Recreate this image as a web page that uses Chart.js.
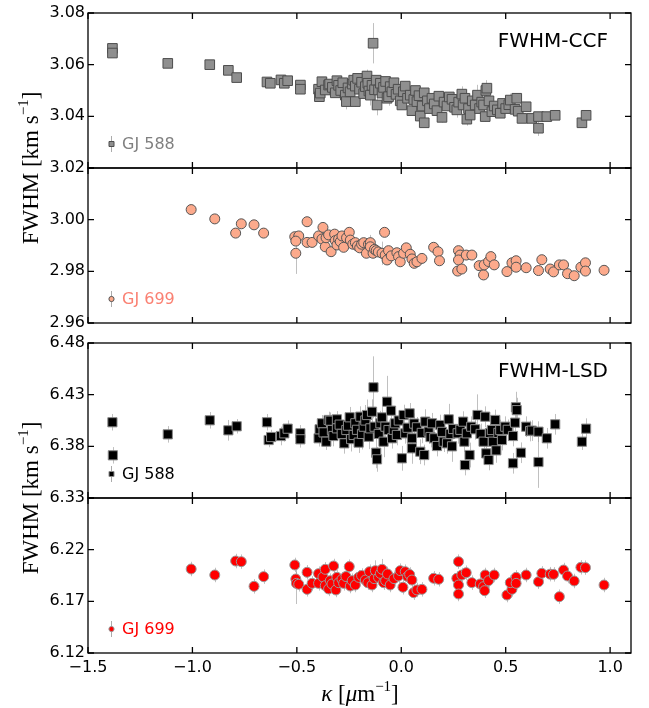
<!DOCTYPE html>
<html>
<head>
<meta charset="utf-8">
<script src="https://cdn.jsdelivr.net/npm/chart.js@4.4.1/dist/chart.umd.min.js"></script>
<style>
  html, body { margin: 0; padding: 0; background: #fff; }
  #fig { position: relative; width: 649px; height: 708px; overflow: hidden; }
  #fig canvas { position: absolute; left: 0; }
  .axlabel {
    position: absolute;
    font-family: "Liberation Serif", serif;
    font-size: 23px;
    white-space: nowrap;
    color: #000;
    line-height: 1;
  }
  .axlabel sup { font-size: 15px; position: relative; top: -2px; }
  .ylab { transform: translate(-50%, -50%) rotate(-90deg); }
  .xlab { transform: translate(-50%, -50%); }
</style>
</head>
<body>
<div id="fig">
  <canvas id="ccf588" width="649" height="181" style="top:0px"></canvas>
  <canvas id="ccf699" width="649" height="181" style="top:155px"></canvas>
  <canvas id="lsd588" width="649" height="181" style="top:330px"></canvas>
  <canvas id="lsd699" width="649" height="223" style="top:485px"></canvas>
  <div class="axlabel ylab" style="left:30px; top:168px">FWHM [km s<sup>−1</sup>]</div>
  <div class="axlabel ylab" style="left:30px; top:498px">FWHM [km s<sup>−1</sup>]</div>
  <div class="axlabel xlab" style="left:360px; top:693px"><i>κ</i> [<i>μ</i>m<sup>−1</sup>]</div>
</div>
<script>
// κ ticks shared by all panels
const kappaTicks = [-1.5, -1.0, -0.5, 0.0, 0.5, 1.0];
const ccfTicks588 = [3.02, 3.04, 3.06, 3.08];
const ccfTicks699 = [2.96, 2.98, 3.00, 3.02];
const lsdTicks588 = [6.33, 6.38, 6.43, 6.48];
const lsdTicks699 = [6.12, 6.17, 6.22, 6.27];

// [kappa, FWHM (km/s), error]
const ccf588 = [
  [-1.383, 3.0663, 0.0010], [-1.383, 3.0645, 0.0010], [-1.118, 3.0605, 0.0008],
  [-0.917, 3.0600, 0.0008], [-0.828, 3.0578, 0.0010], [-0.788, 3.0550, 0.0010],
  [-0.643, 3.0533, 0.0012], [-0.627, 3.0528, 0.0010], [-0.576, 3.0541, 0.0012],
  [-0.560, 3.0528, 0.0010], [-0.544, 3.0538, 0.0010], [-0.483, 3.0521, 0.0010],
  [-0.483, 3.0505, 0.0012], [-0.396, 3.0505, 0.0015], [-0.392, 3.0476, 0.0015],
  [-0.388, 3.0490, 0.0012], [-0.380, 3.0534, 0.0012], [-0.364, 3.0502, 0.0012],
  [-0.348, 3.0521, 0.0012], [-0.343, 3.0525, 0.0012], [-0.330, 3.0512, 0.0015],
  [-0.316, 3.0491, 0.0015], [-0.308, 3.0538, 0.0012], [-0.300, 3.0520, 0.0012],
  [-0.290, 3.0500, 0.0015], [-0.280, 3.0530, 0.0012], [-0.268, 3.0482, 0.0015],
  [-0.263, 3.0457, 0.0030], [-0.255, 3.0510, 0.0015], [-0.245, 3.0495, 0.0015],
  [-0.235, 3.0525, 0.0012], [-0.228, 3.0540, 0.0012], [-0.220, 3.0517, 0.0015],
  [-0.220, 3.0457, 0.0020], [-0.209, 3.0547, 0.0015], [-0.200, 3.0505, 0.0015],
  [-0.190, 3.0532, 0.0015], [-0.180, 3.0488, 0.0015], [-0.172, 3.0515, 0.0015],
  [-0.164, 3.0556, 0.0025], [-0.160, 3.0528, 0.0015], [-0.155, 3.0498, 0.0015],
  [-0.148, 3.0482, 0.0040], [-0.140, 3.0520, 0.0015], [-0.135, 3.0683, 0.0078],
  [-0.128, 3.0503, 0.0015], [-0.120, 3.0540, 0.0015], [-0.116, 3.0444, 0.0040],
  [-0.109, 3.0502, 0.0020], [-0.100, 3.0528, 0.0015], [-0.092, 3.0490, 0.0015],
  [-0.085, 3.0512, 0.0015], [-0.075, 3.0535, 0.0015], [-0.068, 3.0470, 0.0015],
  [-0.061, 3.0476, 0.0035], [-0.053, 3.0515, 0.0015], [-0.045, 3.0495, 0.0015],
  [-0.035, 3.0530, 0.0015], [-0.025, 3.0485, 0.0015], [-0.015, 3.0505, 0.0015],
  [-0.005, 3.0460, 0.0015], [0.003, 3.0444, 0.0015], [0.010, 3.0495, 0.0015],
  [0.019, 3.0517, 0.0015], [0.030, 3.0470, 0.0015], [0.043, 3.0482, 0.0015],
  [0.051, 3.0422, 0.0020], [0.060, 3.0465, 0.0015], [0.068, 3.0500, 0.0015],
  [0.075, 3.0457, 0.0015], [0.085, 3.0480, 0.0015], [0.091, 3.0401, 0.0015],
  [0.100, 3.0440, 0.0015], [0.110, 3.0375, 0.0015], [0.110, 3.0491, 0.0015],
  [0.125, 3.0460, 0.0015], [0.135, 3.0430, 0.0015], [0.147, 3.0470, 0.0015],
  [0.158, 3.0448, 0.0015], [0.171, 3.0422, 0.0025], [0.180, 3.0478, 0.0015],
  [0.195, 3.0396, 0.0020], [0.205, 3.0455, 0.0015], [0.219, 3.0440, 0.0015],
  [0.230, 3.0475, 0.0015], [0.243, 3.0466, 0.0015], [0.255, 3.0435, 0.0015],
  [0.266, 3.0425, 0.0030], [0.275, 3.0455, 0.0015], [0.290, 3.0486, 0.0030],
  [0.296, 3.0444, 0.0015], [0.305, 3.0470, 0.0015], [0.314, 3.0389, 0.0025],
  [0.322, 3.0430, 0.0015], [0.330, 3.0405, 0.0015], [0.340, 3.0460, 0.0015],
  [0.354, 3.0444, 0.0015], [0.365, 3.0482, 0.0040], [0.375, 3.0430, 0.0015],
  [0.385, 3.0455, 0.0015], [0.394, 3.0444, 0.0015], [0.402, 3.0399, 0.0020],
  [0.405, 3.0500, 0.0040], [0.410, 3.0509, 0.0015], [0.420, 3.0460, 0.0015],
  [0.434, 3.0418, 0.0015], [0.445, 3.0440, 0.0015], [0.460, 3.0425, 0.0015],
  [0.474, 3.0412, 0.0015], [0.485, 3.0450, 0.0015], [0.500, 3.0430, 0.0015],
  [0.515, 3.0445, 0.0015], [0.522, 3.0463, 0.0025], [0.545, 3.0427, 0.0015],
  [0.553, 3.0470, 0.0015], [0.560, 3.0420, 0.0015], [0.578, 3.0392, 0.0015],
  [0.598, 3.0437, 0.0015], [0.625, 3.0392, 0.0015], [0.657, 3.0399, 0.0015],
  [0.657, 3.0354, 0.0030], [0.697, 3.0399, 0.0015], [0.737, 3.0404, 0.0015],
  [0.865, 3.0375, 0.0015], [0.885, 3.0404, 0.0015]
];

const ccf699 = [
  [-1.006, 3.0039, 0.0010], [-0.893, 3.0003, 0.0008], [-0.793, 2.9948, 0.0008],
  [-0.766, 2.9984, 0.0008], [-0.705, 2.9980, 0.0008], [-0.659, 2.9948, 0.0008],
  [-0.510, 2.9934, 0.0008], [-0.491, 2.9937, 0.0008], [-0.505, 2.9917, 0.0008],
  [-0.505, 2.9870, 0.0080], [-0.451, 2.9992, 0.0008], [-0.451, 2.9912, 0.0008],
  [-0.427, 2.9912, 0.0008], [-0.396, 2.9937, 0.0008], [-0.375, 2.9970, 0.0008],
  [-0.380, 2.9925, 0.0008], [-0.364, 2.9895, 0.0008], [-0.360, 2.9930, 0.0008],
  [-0.348, 2.9941, 0.0008], [-0.336, 2.9876, 0.0008], [-0.319, 2.9944, 0.0008],
  [-0.316, 2.9919, 0.0008], [-0.308, 2.9902, 0.0008], [-0.300, 2.9925, 0.0008],
  [-0.292, 2.9915, 0.0008], [-0.284, 2.9937, 0.0008], [-0.276, 2.9893, 0.0008],
  [-0.262, 2.9930, 0.0008], [-0.249, 2.9951, 0.0008], [-0.244, 2.9921, 0.0008],
  [-0.232, 2.9905, 0.0008], [-0.220, 2.9911, 0.0008], [-0.210, 2.9898, 0.0008],
  [-0.199, 2.9891, 0.0008], [-0.190, 2.9905, 0.0008], [-0.180, 2.9911, 0.0008],
  [-0.167, 2.9870, 0.0008], [-0.157, 2.9905, 0.0008], [-0.148, 2.9911, 0.0030],
  [-0.148, 2.9895, 0.0008], [-0.135, 2.9870, 0.0008], [-0.128, 2.9885, 0.0008],
  [-0.120, 2.9880, 0.0008], [-0.110, 2.9875, 0.0008], [-0.092, 2.9870, 0.0045],
  [-0.080, 2.9951, 0.0008], [-0.077, 2.9863, 0.0008], [-0.068, 2.9844, 0.0008],
  [-0.061, 2.9880, 0.0008], [-0.048, 2.9860, 0.0008], [-0.021, 2.9872, 0.0008],
  [-0.013, 2.9857, 0.0008], [-0.005, 2.9837, 0.0008], [0.011, 2.9870, 0.0008],
  [0.024, 2.9891, 0.0008], [0.043, 2.9866, 0.0008], [0.051, 2.9848, 0.0008],
  [0.062, 2.9831, 0.0008], [0.075, 2.9837, 0.0008], [0.099, 2.9850, 0.0008],
  [0.155, 2.9893, 0.0008], [0.176, 2.9876, 0.0008], [0.183, 2.9841, 0.0008],
  [0.274, 2.9880, 0.0008], [0.282, 2.9863, 0.0008], [0.274, 2.9844, 0.0008],
  [0.270, 2.9801, 0.0008], [0.290, 2.9809, 0.0008], [0.311, 2.9863, 0.0008],
  [0.338, 2.9863, 0.0008], [0.373, 2.9822, 0.0008], [0.394, 2.9786, 0.0008],
  [0.397, 2.9825, 0.0008], [0.418, 2.9838, 0.0008], [0.429, 2.9857, 0.0008],
  [0.445, 2.9825, 0.0008], [0.506, 2.9799, 0.0008], [0.530, 2.9833, 0.0008],
  [0.550, 2.9841, 0.0008], [0.550, 2.9816, 0.0008], [0.598, 2.9814, 0.0008],
  [0.657, 2.9803, 0.0008], [0.673, 2.9845, 0.0008], [0.713, 2.9809, 0.0008],
  [0.729, 2.9798, 0.0008], [0.757, 2.9825, 0.0008], [0.777, 2.9825, 0.0008],
  [0.796, 2.9791, 0.0008], [0.828, 2.9783, 0.0008], [0.860, 2.9816, 0.0008],
  [0.882, 2.9833, 0.0008], [0.882, 2.9801, 0.0008], [0.971, 2.9804, 0.0008]
];

const lsd588 = [
  [-1.383, 6.4033, 0.008], [-1.381, 6.3713, 0.008], [-1.118, 6.3916, 0.008],
  [-0.917, 6.4052, 0.008], [-0.828, 6.3955, 0.010], [-0.788, 6.3994, 0.007],
  [-0.643, 6.4033, 0.008], [-0.635, 6.3861, 0.007], [-0.623, 6.3890, 0.007],
  [-0.576, 6.3900, 0.009], [-0.560, 6.3926, 0.008], [-0.544, 6.3971, 0.008],
  [-0.483, 6.3926, 0.008], [-0.483, 6.3868, 0.008], [-0.396, 6.3878, 0.008],
  [-0.391, 6.3965, 0.008], [-0.380, 6.4023, 0.008], [-0.372, 6.3935, 0.008],
  [-0.359, 6.3845, 0.008], [-0.348, 6.4055, 0.008], [-0.340, 6.4048, 0.008],
  [-0.332, 6.3958, 0.010], [-0.325, 6.3900, 0.010], [-0.308, 6.4061, 0.008],
  [-0.308, 6.3974, 0.010], [-0.295, 6.4010, 0.010], [-0.285, 6.3920, 0.010],
  [-0.273, 6.3829, 0.010], [-0.263, 6.3958, 0.010], [-0.255, 6.4000, 0.010],
  [-0.247, 6.4081, 0.010], [-0.240, 6.3870, 0.012], [-0.228, 6.3910, 0.010],
  [-0.220, 6.4023, 0.010], [-0.212, 6.3960, 0.010], [-0.204, 6.3836, 0.010],
  [-0.196, 6.4087, 0.010], [-0.188, 6.3920, 0.015], [-0.180, 6.3990, 0.012],
  [-0.172, 6.4050, 0.015], [-0.164, 6.4103, 0.015], [-0.156, 6.3893, 0.012],
  [-0.148, 6.3974, 0.012], [-0.140, 6.4135, 0.012], [-0.133, 6.4371, 0.030],
  [-0.128, 6.3990, 0.010], [-0.120, 6.3738, 0.015], [-0.116, 6.3674, 0.012],
  [-0.108, 6.3920, 0.010], [-0.100, 6.4023, 0.012], [-0.093, 6.4080, 0.010],
  [-0.085, 6.3845, 0.015], [-0.076, 6.3990, 0.010], [-0.068, 6.4232, 0.025],
  [-0.061, 6.3958, 0.010], [-0.049, 6.4145, 0.012], [-0.044, 6.3878, 0.010],
  [-0.036, 6.3960, 0.010], [-0.029, 6.4023, 0.010], [-0.021, 6.3910, 0.010],
  [-0.012, 6.4050, 0.010], [0.003, 6.3684, 0.012], [0.011, 6.4103, 0.010],
  [0.019, 6.3926, 0.010], [0.030, 6.3980, 0.010], [0.040, 6.4119, 0.010],
  [0.051, 6.3878, 0.015], [0.051, 6.3781, 0.015], [0.062, 6.4020, 0.010],
  [0.075, 6.3984, 0.010], [0.091, 6.3748, 0.012], [0.098, 6.3930, 0.010],
  [0.110, 6.3716, 0.010], [0.115, 6.4039, 0.012], [0.131, 6.3942, 0.012],
  [0.140, 6.3890, 0.010], [0.147, 6.4023, 0.010], [0.158, 6.3878, 0.010],
  [0.171, 6.3803, 0.010], [0.187, 6.4006, 0.010], [0.195, 6.3940, 0.010],
  [0.203, 6.3845, 0.010], [0.219, 6.3829, 0.010], [0.227, 6.4061, 0.015],
  [0.235, 6.3920, 0.010], [0.243, 6.3800, 0.015], [0.248, 6.3968, 0.010],
  [0.270, 6.3926, 0.010], [0.283, 6.3960, 0.010], [0.296, 6.4039, 0.010],
  [0.302, 6.3845, 0.010], [0.305, 6.3619, 0.010], [0.314, 6.3926, 0.010],
  [0.327, 6.3716, 0.012], [0.335, 6.3990, 0.010], [0.354, 6.3965, 0.010],
  [0.365, 6.4103, 0.020], [0.380, 6.3920, 0.010], [0.394, 6.3845, 0.010],
  [0.402, 6.4087, 0.010], [0.407, 6.3732, 0.010], [0.418, 6.3668, 0.010],
  [0.425, 6.3930, 0.010], [0.434, 6.3958, 0.010], [0.439, 6.3845, 0.010],
  [0.450, 6.4055, 0.010], [0.455, 6.3761, 0.012], [0.465, 6.3930, 0.010],
  [0.474, 6.3958, 0.010], [0.482, 6.3861, 0.010], [0.498, 6.3990, 0.010],
  [0.510, 6.3960, 0.010], [0.535, 6.3900, 0.010], [0.535, 6.3636, 0.010],
  [0.545, 6.4029, 0.010], [0.549, 6.4178, 0.015], [0.553, 6.4150, 0.012],
  [0.573, 6.3738, 0.010], [0.598, 6.3990, 0.010], [0.617, 6.3948, 0.010],
  [0.625, 6.3952, 0.010], [0.657, 6.3942, 0.010], [0.657, 6.3648, 0.025],
  [0.697, 6.3878, 0.010], [0.737, 6.4013, 0.010], [0.865, 6.3845, 0.008],
  [0.885, 6.3971, 0.010]
];

const lsd699 = [
  [-1.006, 6.2013, 0.007], [-0.893, 6.1955, 0.007], [-0.793, 6.2090, 0.007],
  [-0.766, 6.2084, 0.007], [-0.705, 6.1845, 0.007], [-0.659, 6.1939, 0.007],
  [-0.510, 6.2052, 0.007], [-0.505, 6.1916, 0.007], [-0.502, 6.1874, 0.020],
  [-0.491, 6.1865, 0.007], [-0.451, 6.1981, 0.007], [-0.451, 6.1816, 0.007],
  [-0.427, 6.1874, 0.007], [-0.396, 6.1968, 0.007], [-0.396, 6.1874, 0.007],
  [-0.375, 6.1935, 0.007], [-0.364, 6.2010, 0.007], [-0.364, 6.1852, 0.007],
  [-0.348, 6.1820, 0.007], [-0.340, 6.1900, 0.007], [-0.332, 6.1868, 0.007],
  [-0.324, 6.2042, 0.007], [-0.313, 6.1810, 0.007], [-0.308, 6.1932, 0.007],
  [-0.300, 6.1880, 0.007], [-0.284, 6.1913, 0.007], [-0.276, 6.1874, 0.007],
  [-0.265, 6.1940, 0.007], [-0.249, 6.2036, 0.007], [-0.244, 6.1848, 0.007],
  [-0.235, 6.1900, 0.007], [-0.220, 6.1858, 0.007], [-0.204, 6.1932, 0.007],
  [-0.190, 6.1950, 0.007], [-0.172, 6.1906, 0.007], [-0.160, 6.1880, 0.007],
  [-0.152, 6.1987, 0.007], [-0.140, 6.1858, 0.007], [-0.130, 6.1920, 0.007],
  [-0.124, 6.1997, 0.010], [-0.109, 6.1932, 0.007], [-0.100, 6.1970, 0.007],
  [-0.092, 6.2010, 0.010], [-0.085, 6.1881, 0.007], [-0.075, 6.1900, 0.007],
  [-0.066, 6.1965, 0.007], [-0.053, 6.1858, 0.007], [-0.035, 6.1920, 0.007],
  [-0.013, 6.1945, 0.007], [-0.005, 6.1997, 0.007], [0.008, 6.1836, 0.007],
  [0.019, 6.1987, 0.007], [0.030, 6.1940, 0.007], [0.040, 6.1960, 0.007],
  [0.051, 6.1906, 0.007], [0.059, 6.1784, 0.007], [0.075, 6.1810, 0.007],
  [0.099, 6.1816, 0.007], [0.155, 6.1923, 0.007], [0.179, 6.1913, 0.007],
  [0.266, 6.1923, 0.007], [0.274, 6.2084, 0.007], [0.290, 6.1955, 0.007],
  [0.274, 6.1858, 0.007], [0.274, 6.1771, 0.007], [0.311, 6.1977, 0.007],
  [0.338, 6.1881, 0.007], [0.378, 6.1868, 0.007], [0.394, 6.1842, 0.007],
  [0.402, 6.1955, 0.007], [0.399, 6.1803, 0.007], [0.418, 6.1900, 0.007],
  [0.445, 6.1955, 0.007], [0.506, 6.1761, 0.007], [0.530, 6.1816, 0.007],
  [0.522, 6.1881, 0.007], [0.550, 6.1932, 0.007], [0.550, 6.1874, 0.007],
  [0.598, 6.1955, 0.007], [0.657, 6.1889, 0.007], [0.673, 6.1971, 0.007],
  [0.713, 6.1963, 0.007], [0.729, 6.1961, 0.007], [0.757, 6.1745, 0.007],
  [0.777, 6.2003, 0.007], [0.796, 6.1945, 0.007], [0.828, 6.1897, 0.007],
  [0.860, 6.2029, 0.007], [0.882, 6.2026, 0.007], [0.971, 6.1858, 0.007]
];

const FONT = '"DejaVu Sans", sans-serif';

const PANELS = [
  { canvas: 'ccf588', points: ccf588, ticks: ccfTicks588, hideTopLabel: false, showX: false,
    marker: { style: 'rect', radius: 6.8, fill: '#8f8f8f', edge: '#4d4d4d' },
    name: 'GJ 588', nameColor: '#808080', title: 'FWHM-CCF' },
  { canvas: 'ccf699', points: ccf699, ticks: ccfTicks699, hideTopLabel: true, showX: false,
    marker: { style: 'circle', radius: 5, fill: '#fcaa8c', edge: '#555555' },
    name: 'GJ 699', nameColor: '#fa8072', title: null },
  { canvas: 'lsd588', points: lsd588, ticks: lsdTicks588, hideTopLabel: false, showX: false,
    marker: { style: 'rect', radius: 6.5, fill: '#000000', edge: '#8a8a8a' },
    name: 'GJ 588', nameColor: '#000000', title: 'FWHM-LSD' },
  { canvas: 'lsd699', points: lsd699, ticks: lsdTicks699, hideTopLabel: true, showX: true,
    marker: { style: 'circle', radius: 5, fill: '#ff0000', edge: '#999999' },
    name: 'GJ 699', nameColor: '#ff0000', title: null }
];

// vertical error bars, drawn under the markers
const errorBars = {
  id: 'errorBars',
  beforeDatasetsDraw(chart) {
    const { ctx, scales: { x, y } } = chart;
    ctx.save();
    ctx.strokeStyle = 'rgba(150, 150, 150, 0.6)';
    ctx.lineWidth = 1;
    chart.data.datasets.forEach(ds => {
      ds.data.forEach((p, i) => {
        const px = Math.round(x.getPixelForValue(p.x)) + 0.5;
        ctx.beginPath();
        ctx.moveTo(px, y.getPixelForValue(p.y - ds.errors[i]));
        ctx.lineTo(px, y.getPixelForValue(p.y + ds.errors[i]));
        ctx.stroke();
      });
    });
    ctx.restore();
  }
};

// box frame with inward ticks on all four sides, plus legend entry and panel title
const frame = {
  id: 'frame',
  afterDatasetsDraw(chart, args, opts) {
    const { ctx, chartArea: a, scales: { x, y } } = chart;
    const len = 6;
    ctx.save();
    ctx.strokeStyle = '#000';
    ctx.lineWidth = 1.3;
    ctx.strokeRect(a.left, a.top, a.width, a.height);
    ctx.beginPath();
    kappaTicks.forEach(v => {
      const px = x.getPixelForValue(v);
      ctx.moveTo(px, a.bottom); ctx.lineTo(px, a.bottom - len);
      ctx.moveTo(px, a.top); ctx.lineTo(px, a.top + len);
    });
    opts.ticks.forEach(v => {
      const py = y.getPixelForValue(v);
      ctx.moveTo(a.left, py); ctx.lineTo(a.left + len, py);
      ctx.moveTo(a.right, py); ctx.lineTo(a.right - len, py);
    });
    ctx.stroke();

    // legend entry: tiny marker with its error bar, then the star name
    const lx = a.left + 23, ly = a.bottom - 24;
    ctx.strokeStyle = 'rgba(150, 150, 150, 0.8)';
    ctx.lineWidth = 1;
    ctx.beginPath();
    ctx.moveTo(lx + 0.5, ly - 8); ctx.lineTo(lx + 0.5, ly + 8);
    ctx.stroke();
    ctx.fillStyle = opts.marker.fill;
    ctx.strokeStyle = opts.marker.edge;
    ctx.beginPath();
    if (opts.marker.style === 'rect') ctx.rect(lx - 2, ly - 2.5, 5, 5);
    else ctx.arc(lx + 0.5, ly, 2.6, 0, Math.PI * 2);
    ctx.fill(); ctx.stroke();
    ctx.font = '16px ' + FONT;
    ctx.fillStyle = opts.nameColor;
    ctx.textAlign = 'left';
    ctx.textBaseline = 'middle';
    ctx.fillText(opts.name, a.left + 34, ly + 1);

    if (opts.title) {
      ctx.font = '20px ' + FONT;
      ctx.fillStyle = '#000';
      ctx.textAlign = 'right';
      ctx.fillText(opts.title, a.right - 23, a.top + 29);
    }
    ctx.restore();
  }
};

function makePanel(p) {
  const el = document.getElementById(p.canvas);
  const yMin = p.ticks[0], yMax = p.ticks[p.ticks.length - 1];
  return new Chart(el, {
    type: 'scatter',
    data: {
      datasets: [{
        data: p.points.map(([k, v]) => ({ x: k, y: v })),
        errors: p.points.map(q => q[2]),
        pointStyle: p.marker.style,
        pointRadius: p.marker.radius,
        backgroundColor: p.marker.fill,
        borderColor: p.marker.edge,
        borderWidth: 1
      }]
    },
    options: {
      responsive: false,
      animation: false,
      events: [],
      layout: { padding: { top: 13, right: 18, bottom: p.showX ? 0 : 13, left: 0 } },
      plugins: {
        legend: { display: false },
        tooltip: { enabled: false },
        frame: { ticks: p.ticks, marker: p.marker, name: p.name, nameColor: p.nameColor, title: p.title }
      },
      scales: {
        x: {
          type: 'linear', min: -1.5, max: 1.1,
          display: p.showX,
          grid: { display: false, drawTicks: false },
          border: { display: false },
          afterBuildTicks: s => { s.ticks = kappaTicks.map(v => ({ value: v })); },
          afterFit: s => { s.height = p.showX ? 55 : 0; },
          ticks: {
            autoSkip: false, maxRotation: 0, padding: 5,
            color: '#000', font: { family: FONT, size: 16 },
            callback: v => (v < 0 ? '\u2212' : '') + Math.abs(v).toFixed(1)
          }
        },
        y: {
          type: 'linear', min: yMin, max: yMax,
          grid: { display: false, drawTicks: false },
          border: { display: false },
          afterBuildTicks: s => { s.ticks = p.ticks.map(v => ({ value: v })); },
          afterFit: s => { s.width = 88; },
          ticks: {
            autoSkip: false, padding: 3,
            color: '#000', font: { family: FONT, size: 16 },
            callback: v => (p.hideTopLabel && Math.abs(v - yMax) < 1e-6) ? '' : v.toFixed(2)
          }
        }
      }
    },
    plugins: [errorBars, frame]
  });
}

PANELS.forEach(makePanel);
</script>
</body>
</html>
